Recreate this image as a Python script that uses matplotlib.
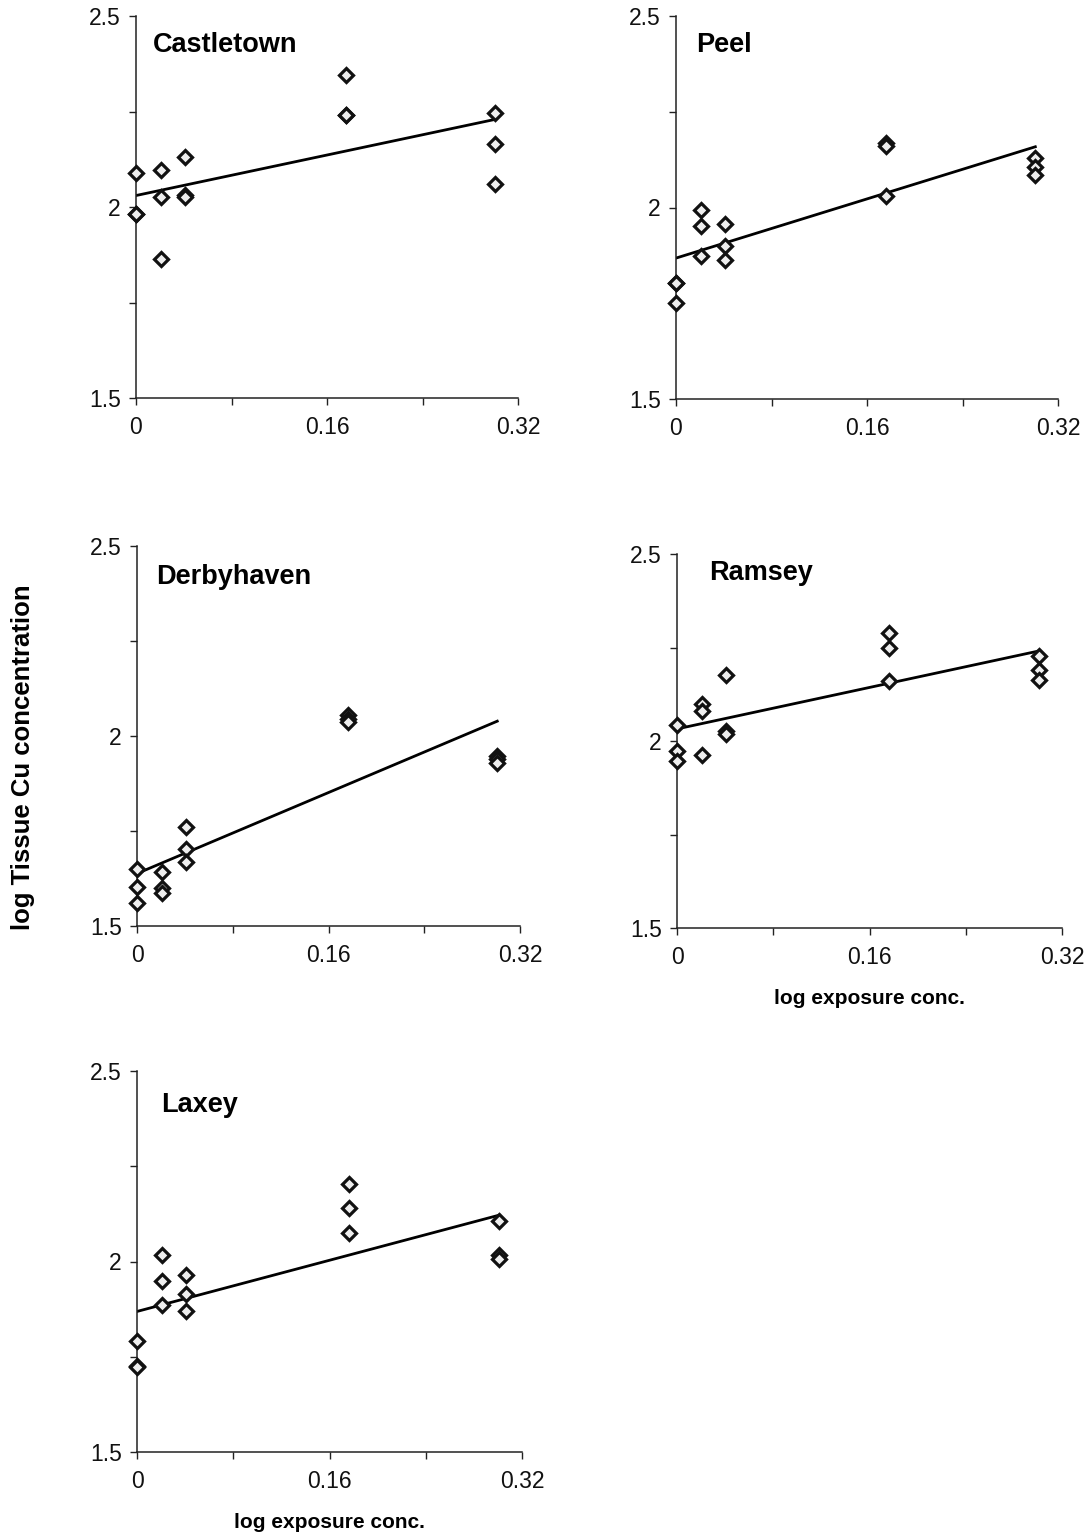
#!/usr/bin/env python3
"""
log tissue Cu vs log exposure concentration, five Isle of Man sites
"""

import numpy as np
import matplotlib
matplotlib.use("Agg")
import matplotlib.pyplot as plt

plt.rcParams['font.family'] = ['Liberation Sans', 'DejaVu Sans']

# exposure levels (log), three replicates per level
exposure = [0.0, 0.021, 0.041, 0.176, 0.301]

castletown = [[2.088, 1.981, 1.981], [2.098, 2.025, 1.863], [2.132, 2.031, 2.027],
              [2.345, 2.240, 2.240], [2.246, 2.166, 2.059]]
peel = [[1.804, 1.804, 1.750], [1.994, 1.953, 1.873], [1.958, 1.899, 1.864],
        [2.168, 2.161, 2.031], [2.129, 2.107, 2.085]]
derbyhaven = [[1.650, 1.602, 1.560], [1.641, 1.599, 1.586], [1.761, 1.702, 1.669],
              [2.055, 2.045, 2.037], [1.948, 1.940, 1.930]]
ramsey = [[2.042, 1.974, 1.947], [2.100, 2.079, 1.962], [2.176, 2.028, 2.019],
          [2.289, 2.249, 2.161], [2.228, 2.189, 2.162]]
laxey = [[1.791, 1.727, 1.723], [2.018, 1.948, 1.885], [1.965, 1.914, 1.871],
         [2.203, 2.140, 2.075], [2.106, 2.018, 2.007]]

site_names = ["Castletown", "Peel", "Derbyhaven", "Ramsey", "Laxey"]
site_data = [castletown, peel, derbyhaven, ramsey, laxey]

x_ticks = [0, 0.08, 0.16, 0.24, 0.32]
x_tick_labels = ["0", "", "0.16", "", "0.32"]
y_ticks = [1.5, 1.75, 2.0, 2.25, 2.5]
y_tick_labels = ["1.5", "", "2", "", "2.5"]

W, H = 1092, 1532

# panel boxes in pixels: left, top, right, bottom
panel_px = [
    (136, 16, 518, 398),
    (676, 16, 1058, 399),
    (137, 546, 520, 926),
    (677, 554, 1062, 928),
    (137, 1071, 522, 1452),
]
# site name position in axes fraction
name_pos = [(0.045, 0.906), (0.052, 0.907), (0.051, 0.899), (0.083, 0.93), (0.062, 0.893)]


def draw_panel(fig, box, name, data, npos, xlabel=False):
    l, t, r, b = box
    ax = fig.add_axes([l / W, 1 - b / H, (r - l) / W, (b - t) / H])

    xs = np.repeat(exposure, 3)
    ys = np.array(data).ravel()

    ax.plot(xs, ys, linestyle='none', marker='D', markersize=7.5,
            markerfacecolor='#eeeeee', markeredgecolor='#111111',
            markeredgewidth=2.3, clip_on=False, zorder=3)

    # linear regression line over the exposure range
    slope, intercept = np.polyfit(xs, ys, 1)
    xl = np.array([exposure[0], exposure[-1]])
    ax.plot(xl, intercept + slope * xl, color='black', linewidth=2.0, zorder=2)

    ax.set_xlim(0, 0.32)
    ax.set_ylim(1.5, 2.5)
    ax.set_xticks(x_ticks)
    ax.set_xticklabels(x_tick_labels)
    ax.set_yticks(y_ticks)
    ax.set_yticklabels(y_tick_labels)
    ax.tick_params(axis='both', direction='out', length=5, width=1.0,
                   labelsize=16.5, color='#222222', labelcolor='#111111')
    ax.tick_params(axis='x', pad=8)
    ax.tick_params(axis='y', pad=6)
    for side in ('top', 'right'):
        ax.spines[side].set_visible(False)
    for side in ('left', 'bottom'):
        ax.spines[side].set_linewidth(1.1)
        ax.spines[side].set_color('#222222')
    ax.patch.set_alpha(0)

    ax.text(npos[0], npos[1], name, transform=ax.transAxes,
            fontsize=19.5, fontweight='bold', va='baseline', ha='left')

    if xlabel:
        ax.set_xlabel("log exposure conc.", fontsize=15, fontweight='bold', labelpad=14)
    return ax


fig = plt.figure(figsize=(W / 100, H / 100), dpi=100)
fig.patch.set_facecolor('white')

for i in range(5):
    draw_panel(fig, panel_px[i], site_names[i], site_data[i], name_pos[i],
               xlabel=(i in (3, 4)))

fig.text(23 / W, 1 - 757 / H, "log Tissue Cu concentration", rotation=90,
         fontsize=18.5, fontweight='bold', ha='center', va='center')

fig.savefig("out.png", dpi=100)
